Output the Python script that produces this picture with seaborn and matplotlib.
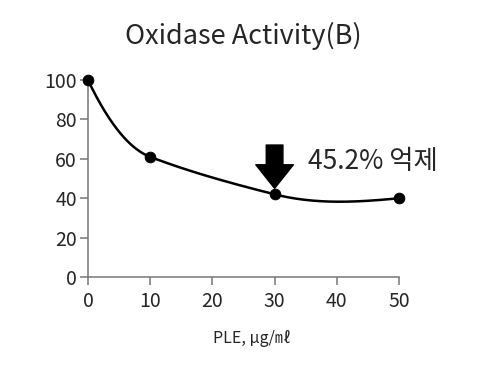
import numpy as np
import pandas as pd
import matplotlib
matplotlib.use('Agg')
import matplotlib.pyplot as plt
import seaborn as sns

# data
conc = [0, 10, 30, 50]
activity = [100, 61, 42, 40]
inhibit_label = '45.2% 억제'

sns.set_style('ticks')
plt.rcParams['font.family'] = ['Noto Sans CJK KR', 'DejaVu Sans']


def smooth_curve(xs, ys, slopes, n=60):
    # piecewise cubic hermite through the points
    px, py = [], []
    for i in range(len(xs) - 1):
        h = xs[i + 1] - xs[i]
        t = np.linspace(0, 1, n)
        h00 = 2 * t**3 - 3 * t**2 + 1
        h10 = t**3 - 2 * t**2 + t
        h01 = -2 * t**3 + 3 * t**2
        h11 = t**3 - t**2
        seg = h00 * ys[i] + h10 * h * slopes[i] + h01 * ys[i + 1] + h11 * h * slopes[i + 1]
        px.extend(xs[i] + t * h)
        py.extend(seg)
    return pd.DataFrame({'x': px, 'y': py})


df = pd.DataFrame({'conc': conc, 'activity': activity})
curve = smooth_curve(conc, activity, [-6.6, -1.2, -0.8, 0.3])

fig = plt.figure(figsize=(4.86, 3.67), dpi=100)
ax = fig.add_axes([0.181, 0.245, 0.640, 0.537])

sns.lineplot(data=curve, x='x', y='y', ax=ax, color='black', lw=1.8,
             sort=False, estimator=None)
sns.scatterplot(data=df, x='conc', y='activity', ax=ax, color='black',
                s=60, edgecolor='black', zorder=5, clip_on=False)
for ln in ax.lines:
    ln.set_clip_on(False)

ax.set_xlim(0, 50)
ax.set_ylim(0, 100)
ax.set_xticks([0, 10, 20, 30, 40, 50])
ax.set_yticks([0, 20, 40, 60, 80, 100])
ax.tick_params(labelsize=14, length=6, width=1.1, color='#777777')
ax.tick_params(axis='x', pad=4)
ax.tick_params(axis='y', pad=2)
for s in ['left', 'bottom']:
    ax.spines[s].set_color('#777777')
    ax.spines[s].set_linewidth(1.1)
sns.despine(ax=ax)

ax.set_xlabel('PLE, μg/㎖', fontsize=11.5, labelpad=18)
ax.xaxis.set_label_coords(0.527, -0.27)
ax.set_ylabel('')
ax.set_title('Oxidase Activity(B)', fontsize=19.5, pad=26, fontweight='light')

# arrow and inhibition text
ax.annotate('', xy=(conc[2], activity[2] + 3), xytext=(conc[2], 67),
            arrowprops=dict(facecolor='black', edgecolor='black',
                            width=12, headwidth=27, headlength=17, shrink=0))
ax.text(35.3, 58.5, inhibit_label, fontsize=19, va='center', ha='left',
        fontweight='light')

fig.savefig('out.png', dpi=100)
